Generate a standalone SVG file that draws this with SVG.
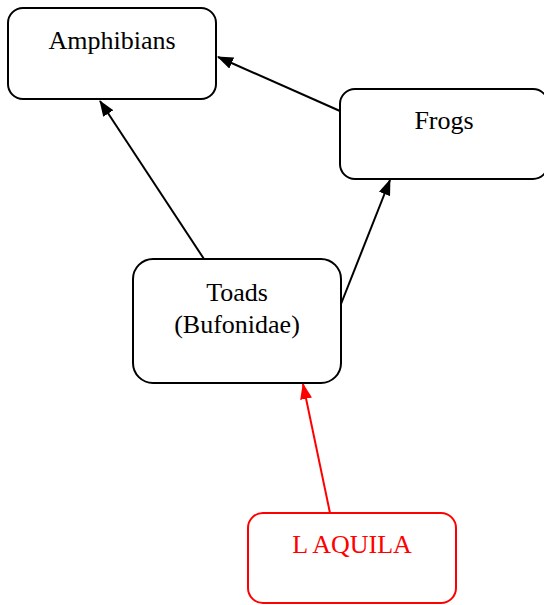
<svg xmlns="http://www.w3.org/2000/svg" width="544" height="605" viewBox="0 0 544 605">
<style>
.box{fill:#fff;stroke:#000;stroke-width:2}
.red .box{stroke:#f00}
text{font-family:"Liberation Serif","Times New Roman",serif;font-size:26px;text-anchor:middle;fill:#000}
.red text{fill:#f00}
.edge{fill:none;stroke:#000;stroke-width:2}
.edge.r{stroke:#f00}
</style>
<defs>
<marker id="ah" markerWidth="16" markerHeight="12" refX="15" refY="6" orient="auto" markerUnits="userSpaceOnUse"><path d="M0,0 L16,6 L0,12 z" fill="#000"/></marker>
<marker id="ahr" markerWidth="16" markerHeight="12" refX="15" refY="6" orient="auto" markerUnits="userSpaceOnUse"><path d="M0,0 L16,6 L0,12 z" fill="#f00"/></marker>
</defs>
<rect width="544" height="605" fill="#fff"/>
<g id="edges">
<line class="edge" x1="204" y1="259" x2="100" y2="101" marker-end="url(#ah)"/>
<line class="edge" x1="340" y1="111" x2="218" y2="57" marker-end="url(#ah)"/>
<line class="edge" x1="341" y1="304" x2="390" y2="180" marker-end="url(#ah)"/>
<line class="edge r" x1="330" y1="513" x2="303" y2="384" marker-end="url(#ahr)"/>
</g>
<g id="amphibians"><rect class="box" x="8" y="8" width="208" height="91" rx="15"/><text x="112" y="49">Amphibians</text></g>
<g id="frogs"><rect class="box" x="340" y="89" width="208" height="90" rx="15"/><text x="444" y="129">Frogs</text></g>
<g id="toads"><rect class="box" x="133" y="259" width="208" height="124" rx="20"/><text x="237" y="301">Toads</text><text x="237" y="333">(Bufonidae)</text></g>
<g id="laquila" class="red"><rect class="box" x="248" y="513" width="208" height="90" rx="15"/><text x="352" y="553">L AQUILA</text></g>
</svg>
